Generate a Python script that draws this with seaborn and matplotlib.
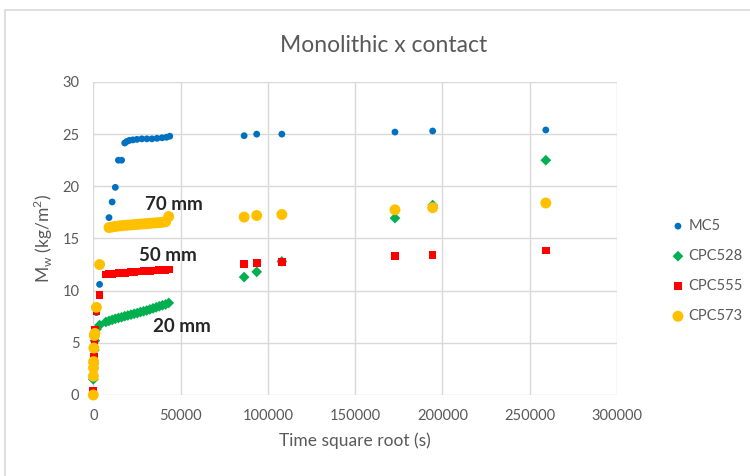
import numpy as np
import pandas as pd
import matplotlib
matplotlib.use("Agg")
import matplotlib.pyplot as plt
import seaborn as sns
from matplotlib.patches import Rectangle

# time (s) and water content Mw (kg/m2)
t_curve = [7200, 9000, 10800, 12600, 14400, 16200, 18000, 19800, 21600, 23400, 25200,
           27000, 28800, 30600, 32400, 34200, 36000, 37800, 39600, 41400, 43200]
t_late = [86400, 93600, 108000, 172800, 194400, 259200]

mc5_x = [0, 300, 600, 900, 1800, 3600, 9000, 10800, 12600, 14400, 16200,
         18000, 19200, 20700, 22700, 25000, 27800, 30700, 33600, 36500, 39400, 41900, 43800] + t_late
mc5_y = [0.3, 2.2, 3.2, 5.4, 7.9, 10.6, 17.0, 18.5, 19.9, 22.5, 22.5,
         24.15, 24.3, 24.4, 24.45, 24.5, 24.55, 24.55, 24.55, 24.6, 24.65, 24.7, 24.8,
         24.85, 25.0, 25.0, 25.2, 25.3, 25.4]

cpc528_x = [0, 300, 600, 900, 1800, 3600] + t_curve + t_late
cpc528_y = [1.5, 3.0, 4.3, 5.2, 6.3, 6.7,
            7.0, 7.1, 7.2, 7.3, 7.38, 7.45, 7.55, 7.62, 7.7, 7.78, 7.85, 7.95, 8.02, 8.1, 8.2, 8.3,
            8.4, 8.5, 8.6, 8.68, 8.82,
            11.3, 11.8, 12.8, 16.95, 18.2, 22.5]

cpc555_x = [0, 300, 600, 900, 1800, 3600] + t_curve + t_late
cpc555_y = [0.4, 3.7, 5.2, 6.2, 8.0, 9.6,
            11.55, 11.6, 11.62, 11.65, 11.68, 11.7, 11.72, 11.75, 11.78, 11.8, 11.82, 11.85, 11.87,
            11.88, 11.9, 11.92, 11.93, 11.95, 11.96, 11.98, 12.02,
            12.55, 12.65, 12.75, 13.3, 13.4, 13.85]

cpc573_x = [0, 60, 120, 180, 300, 600, 900, 1800, 3600] + t_curve[1:] + t_late
cpc573_y = [0.0, 1.8, 2.6, 3.2, 4.5, 5.7, 5.9, 8.4, 12.5,
            16.05, 16.1, 16.15, 16.2, 16.22, 16.25, 16.28, 16.3, 16.33, 16.35, 16.38, 16.4, 16.42,
            16.45, 16.48, 16.5, 16.52, 16.55, 16.6, 17.1,
            17.05, 17.2, 17.3, 17.75, 17.95, 18.4]

series = [
    ("MC5", mc5_x, mc5_y, "o", "#0070C0", 24),
    ("CPC528", cpc528_x, cpc528_y, "D", "#00B050", 30),
    ("CPC555", cpc555_x, cpc555_y, "s", "#FF0000", 30),
    ("CPC573", cpc573_x, cpc573_y, "o", "#FFC000", 62),
]

sns.set_style("white")
plt.rcParams['font.family'] = ['Lato', 'DejaVu Sans']
grey = "#595959"

fig = plt.figure(figsize=(7.5, 4.76), dpi=100)
ax = fig.add_axes([0.1244, 0.1702, 0.6983, 0.6576])

for name, xs, ys, mk, col, size in series:
    sns.scatterplot(x=xs, y=ys, ax=ax, marker=mk, color=col, s=size,
                    edgecolor="none", linewidth=0, label=name, zorder=3)
for coll in ax.collections:
    coll.set_clip_on(False)

ax.set_xlim(0, 300000)
ax.set_ylim(0, 30)
ax.set_xticks(np.arange(0, 300001, 50000))
ax.set_yticks(np.arange(0, 31, 5))
ax.grid(True, color="#D9D9D9", linewidth=1)
for sp in ax.spines.values():
    sp.set_visible(False)
ax.tick_params(axis="x", length=0, labelsize=10.5, colors=grey, pad=10)
ax.tick_params(axis="y", length=0, labelsize=10.5, colors=grey, pad=10)

ax.set_xlabel("Time square root (s)", fontsize=12.5, color=grey, labelpad=7)
ax.set_ylabel(r"M$_\mathregular{w}$ (kg/m$^\mathregular{2}$)", fontsize=12.5, color=grey, labelpad=5)
fig.text(0.512, 1 - 45 / 476, "Monolithic x contact", fontsize=16.5, color=grey,
         ha="center", va="center")

# thickness labels
ax.text(29600, 18.3, "70 mm", fontsize=13.5, fontweight="bold", va="center")
ax.text(26300, 13.4, "50 mm", fontsize=13.5, fontweight="bold", va="center")
ax.text(34000, 6.6, "20 mm", fontsize=13.5, fontweight="bold", va="center")

leg = ax.legend(loc="center left", bbox_to_anchor=(1.108, 0.396), frameon=False,
                fontsize=10.5, labelspacing=1.1, handlelength=0.6, handletextpad=0.4,
                borderaxespad=0, borderpad=0)
for txt in leg.get_texts():
    txt.set_color(grey)

# chart area border (cut by the screenshot on the right and bottom)
fig.patches.append(Rectangle((0.0067, -0.1), 1.2, 1.1 - 10 / 476, transform=fig.transFigure,
                             fill=False, edgecolor="#D9D9D9", linewidth=1.2))

fig.savefig("out.png", dpi=100)
